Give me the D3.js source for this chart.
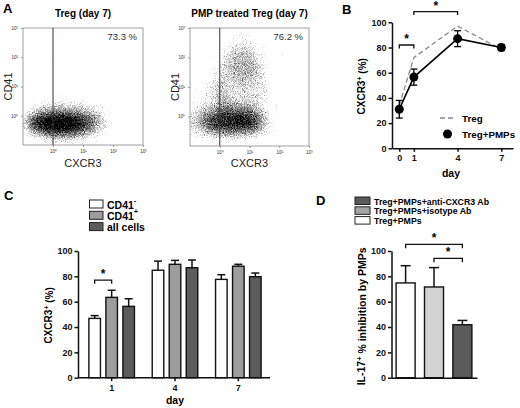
<!DOCTYPE html>
<html>
<head>
<meta charset="utf-8">
<script src="https://cdn.jsdelivr.net/npm/d3@7"></script>
<style>
  body { margin: 0; background: #fff; }
  svg { font-family: "Liberation Sans", Arial, sans-serif; display: block; }
  .ax path, .ax line { stroke: #111; stroke-width: 1.5; }
  .ax text { font-size: 9px; font-weight: bold; fill: #111; }
  .fa path, .fa line { stroke: #777; stroke-width: 0.7; }
  .fa text { font-size: 4.5px; fill: #333; }
</style>
</head>
<body>
<div id="fig"></div>
<script>
// ---- data ----
// A: flow cytometry clouds, [log10 CXCR3, log10 CD41, half-width (decades), half-height (decades), density]
const tregCloud = [
  [0.40, -0.20, 1.50, 0.72, 0.25],
  [0.30, -0.25, 1.20, 0.42, 0.40],
  [0.20, -0.28, 0.85, 0.25, 0.50]
];
const pmpCloud = [
  [0.30, -0.20, 1.50, 0.60, 0.28],
  [0.45, -0.22, 1.00, 0.32, 0.45],
  [0.70, 1.00, 0.95, 1.30, 0.22],
  [0.80, 2.00, 0.60, 0.90, 0.15],
  [-0.30, 0.50, 0.60, 0.80, 0.12]
];
const gatePct = ['73.3 %', '76.2 %'];
const logTicks = [1, 10, 100, 1000];

// B: CXCR3+ (%) over days
const daysB = [0, 1, 4, 7];
const tregB = [34, 72, 97, 78.5];
const pmpB = [31, 56.5, 87, 80];
const pmpErrB = [7, 6.4, 6.3, 2.4];

// C: CXCR3+ (%) by subset
const daysC = ['1', '4', '7'];
const seriesC = ['neg', 'pos', 'all'];
const cd41Neg = [46.8, 84.8, 77.6];
const cd41NegErr = [2.2, 7.2, 3.7];
const cd41Pos = [63.4, 89.5, 88];
const cd41PosErr = [5.6, 3.1, 1.5];
const allCells = [56.3, 86.8, 79.7];
const allCellsErr = [6.0, 6.1, 2.9];

// D: IL-17+ % inhibition by PMPs
const groupsD = ['Treg+PMPs', 'Treg+PMPs+isotype Ab', 'Treg+PMPs+anti-CXCR3 Ab'];
const inhibD = [74.8, 71.6, 41.8];
const inhibErrD = [13.6, 15.3, 3.4];

const W = 520, H = 408;
const svg = d3.select('#fig').append('svg')
  .attr('width', W).attr('height', H);
svg.append('rect').attr('width', W).attr('height', H).attr('fill', '#fff');

// grainy dot texture for the cytometry clouds
const defs = svg.append('defs');
const flt = defs.append('filter').attr('id', 'speckle')
  .attr('filterUnits', 'userSpaceOnUse')
  .attr('x', 0).attr('y', 0).attr('width', W).attr('height', 200)
  .attr('color-interpolation-filters', 'sRGB');
flt.append('feGaussianBlur').attr('in', 'SourceAlpha').attr('stdDeviation', 6).attr('result', 'b');
flt.append('feTurbulence').attr('type', 'fractalNoise').attr('baseFrequency', 1.1)
  .attr('numOctaves', 2).attr('seed', 4).attr('result', 'n');
flt.append('feColorMatrix').attr('in', 'n').attr('type', 'matrix')
  .attr('values', '0 0 0 0 0.07  0 0 0 0 0.07  0 0 0 0 0.07  1 0 0 0 0').attr('result', 'na');
flt.append('feComposite').attr('in', 'b').attr('in2', 'na').attr('operator', 'arithmetic')
  .attr('k1', 0).attr('k2', 1.5).attr('k3', 1.0).attr('k4', -0.78).attr('result', 'c');
const ct = flt.append('feComponentTransfer').attr('in', 'c');
ct.append('feFuncA').attr('type', 'linear').attr('slope', 1.35);

function supLabel(sel, base, sup, rest) {
  sel.append('tspan').text(base);
  sel.append('tspan').attr('dy', '-0.45em').attr('font-size', '0.7em').text(sup);
  sel.append('tspan').attr('dy', '0.45em').text(rest);
}

// ---- panel A ----
function dotPlot(x0, x1, y0, y1, cloud, title, pct, id) {
  const x = d3.scaleLog().domain([0.1, 1000]).range([x0, x1]);
  const y = d3.scaleLog().domain([0.1, 1000]).range([y1, y0]);
  const g = svg.append('g');
  defs.append('clipPath').attr('id', id).append('rect')
    .attr('x', x0).attr('y', y0).attr('width', x1 - x0).attr('height', y1 - y0);
  const pxDec = (x1 - x0) / 4, pyDec = (y1 - y0) / 4;
  g.append('g').attr('clip-path', `url(#${id})`)
    .append('g').attr('filter', 'url(#speckle)')
    .selectAll('ellipse').data(cloud).join('ellipse')
      .attr('cx', d => x(Math.pow(10, d[0])))
      .attr('cy', d => y(Math.pow(10, d[1])))
      .attr('rx', d => d[2] * pxDec)
      .attr('ry', d => d[3] * pyDec)
      .attr('fill', '#000').attr('fill-opacity', d => d[4]);
  g.append('rect').attr('x', x0).attr('y', y0).attr('width', x1 - x0).attr('height', y1 - y0)
    .attr('fill', 'none').attr('stroke', '#888').attr('stroke-width', 0.8);
  const fmt = v => '10' + '⁰¹²³'[Math.round(Math.log10(v))];
  g.append('g').attr('class', 'fa').attr('transform', `translate(0,${y1})`)
    .call(d3.axisBottom(x).tickValues(logTicks).tickFormat(fmt).tickSize(2).tickSizeOuter(0));
  g.append('g').attr('class', 'fa').attr('transform', `translate(${x0},0)`)
    .call(d3.axisLeft(y).tickValues(logTicks).tickFormat(fmt).tickSize(2).tickSizeOuter(0));
  g.selectAll('.fa .domain').remove();
  g.append('line').attr('x1', x(1)).attr('x2', x(1)).attr('y1', y0).attr('y2', y1)
    .attr('stroke', '#333').attr('stroke-width', 1);
  g.append('text').attr('x', x1 - 6).attr('y', y0 + 12).attr('text-anchor', 'end')
    .attr('font-size', 9.5).attr('fill', '#333').text(pct);
  g.append('text').attr('x', (x0 + x1) / 2).attr('y', 17).attr('text-anchor', 'middle')
    .attr('font-size', 10).attr('font-weight', 'bold').text(title);
  g.append('text').attr('x', (x0 + x1) / 2).attr('y', 167).attr('text-anchor', 'middle')
    .attr('font-size', 11).attr('fill', '#222').text('CXCR3');
  g.append('text').attr('transform', `translate(${x0 - 11},${(y0 + y1) / 2}) rotate(-90)`)
    .attr('text-anchor', 'middle').attr('font-size', 11).attr('fill', '#222').text('CD41');
}
dotPlot(23, 143, 28, 145, tregCloud, 'Treg (day 7)', gatePct[0], 'clipA1');
dotPlot(190, 309, 28, 146, pmpCloud, 'PMP treated Treg (day 7)', gatePct[1], 'clipA2');

// ---- panel B ----
const xB = d3.scaleLinear().domain([-0.5, 7.8]).range([392, 513]);
const yB = d3.scaleLinear().domain([0, 100]).range([148.3, 22.3]);
svg.append('g').attr('class', 'ax').attr('transform', `translate(0,${yB(0)})`)
  .call(d3.axisBottom(xB).tickValues(daysB).tickSize(3.5).tickPadding(3).tickSizeOuter(0));
svg.append('g').attr('class', 'ax').attr('transform', `translate(${xB.range()[0]},0)`)
  .call(d3.axisLeft(yB).tickValues([0, 20, 40, 60, 80, 100]).tickSize(3.5).tickPadding(2).tickSizeOuter(0));
svg.append('path')
  .attr('d', d3.line().x((d, i) => xB(daysB[i])).y(d => yB(d))(tregB))
  .attr('fill', 'none').attr('stroke', '#888').attr('stroke-width', 1.3).attr('stroke-dasharray', '5,3');
svg.append('path')
  .attr('d', d3.line().x((d, i) => xB(daysB[i])).y(d => yB(d))(pmpB))
  .attr('fill', 'none').attr('stroke', '#000').attr('stroke-width', 1.6);
const eb = svg.append('g').attr('stroke', '#000').attr('stroke-width', 1.3);
pmpB.forEach((v, i) => {
  const cx = xB(daysB[i]);
  eb.append('line').attr('x1', cx).attr('x2', cx).attr('y1', yB(v - pmpErrB[i])).attr('y2', yB(v + pmpErrB[i]));
  [v - pmpErrB[i], v + pmpErrB[i]].forEach(e =>
    eb.append('line').attr('x1', cx - 3.5).attr('x2', cx + 3.5).attr('y1', yB(e)).attr('y2', yB(e)));
});
svg.append('g').selectAll('circle').data(pmpB).join('circle')
  .attr('cx', (d, i) => xB(daysB[i])).attr('cy', d => yB(d)).attr('r', 4.5).attr('fill', '#000');

function bracket(xa, xb, yy, tip, star) {
  svg.append('path').attr('d', `M${xa},${yy + tip}V${yy}H${xb}V${yy + tip}`)
    .attr('fill', 'none').attr('stroke', '#111').attr('stroke-width', 1.3);
  if (star) svg.append('text').attr('x', (xa + xb) / 2).attr('y', yy - 2).attr('text-anchor', 'middle')
    .attr('font-size', 12).attr('font-weight', 'bold').text('*');
}
bracket(xB(0), xB(1), yB(82), 3.5, true);
bracket(xB(1), xB(4), yB(108.5), 3.5, true);

svg.append('text').attr('x', 451).attr('y', 177).attr('text-anchor', 'middle')
  .attr('font-size', 10.5).attr('font-weight', 'bold').text('day');
const ylB = svg.append('text').attr('transform', `translate(365,${yB(50) + 1}) rotate(-90)`)
  .attr('text-anchor', 'middle').attr('font-size', 10).attr('font-weight', 'bold');
supLabel(ylB, 'CXCR3', '+', ' (%)');
const lgB = svg.append('g').attr('font-size', 9.8).attr('font-weight', 'bold');
lgB.append('line').attr('x1', 440).attr('x2', 455).attr('y1', 118).attr('y2', 118)
  .attr('stroke', '#888').attr('stroke-width', 1.3).attr('stroke-dasharray', '5,3');
lgB.append('text').attr('x', 462).attr('y', 121.5).text('Treg');
lgB.append('circle').attr('cx', 447.5).attr('cy', 134).attr('r', 4.5);
lgB.append('text').attr('x', 462).attr('y', 137.5).text('Treg+PMPs');

// ---- panel C ----
const yC = d3.scaleLinear().domain([0, 100]).range([377.7, 251]);
const xC = d3.scaleBand().domain(daysC).range([80, 270]);
const xCi = d3.scaleBand().domain(seriesC).range([-25.5, 25.5]).paddingInner(0.32).paddingOuter(0.16);
const fillC = { neg: '#fff', pos: '#9d9d9d', all: '#5c5c5c' };
const rowsC = daysC.flatMap((day, i) => [
  { day, s: 'neg', v: cd41Neg[i], e: cd41NegErr[i] },
  { day, s: 'pos', v: cd41Pos[i], e: cd41PosErr[i] },
  { day, s: 'all', v: allCells[i], e: allCellsErr[i] }
]);
const cx0 = d => xC(d.day) + xC.bandwidth() / 2 + xCi(d.s);
svg.append('g').selectAll('line').data(rowsC).join('g').each(function (d) {
  const g = d3.select(this), mid = cx0(d) + xCi.bandwidth() / 2;
  g.append('line').attr('x1', mid).attr('x2', mid).attr('y1', yC(d.v)).attr('y2', yC(d.v + d.e))
    .attr('stroke', '#111').attr('stroke-width', 1.5);
  g.append('line').attr('x1', mid - 4).attr('x2', mid + 4).attr('y1', yC(d.v + d.e)).attr('y2', yC(d.v + d.e))
    .attr('stroke', '#111').attr('stroke-width', 1.5);
});
svg.append('g').selectAll('rect').data(rowsC).join('rect')
  .attr('x', cx0).attr('y', d => yC(d.v))
  .attr('width', xCi.bandwidth()).attr('height', d => yC(0) - yC(d.v))
  .attr('fill', d => fillC[d.s]).attr('stroke', '#111').attr('stroke-width', 1.4);
svg.append('g').attr('class', 'ax').attr('transform', `translate(0,${yC(0)})`)
  .call(d3.axisBottom(xC).tickSize(3.5).tickPadding(3).tickSizeOuter(0))
  .call(g => g.select('.domain').attr('d', `M78,0H270`));
svg.append('g').attr('class', 'ax').attr('transform', 'translate(78,0)')
  .call(d3.axisLeft(yC).tickValues([0, 20, 40, 60, 80, 100]).tickSize(3.5).tickPadding(2).tickSizeOuter(0));
{
  const a = cx0(rowsC[0]) + xCi.bandwidth() / 2, b = cx0(rowsC[1]) + xCi.bandwidth() / 2;
  bracket(a, b, yC(77), 3.5, true);
}
svg.append('text').attr('x', 175).attr('y', 404).attr('text-anchor', 'middle')
  .attr('font-size', 10.5).attr('font-weight', 'bold').text('day');
const ylC = svg.append('text').attr('transform', `translate(52,${yC(50) + 1}) rotate(-90)`)
  .attr('text-anchor', 'middle').attr('font-size', 10).attr('font-weight', 'bold');
supLabel(ylC, 'CXCR3', '+', ' (%)');
const lgC = svg.append('g').attr('font-size', 10.5).attr('font-weight', 'bold');
[['neg', 'CD41', '-'], ['pos', 'CD41', '+'], ['all', 'all cells', '']].forEach((r, i) => {
  const yy = 200 + i * 11.3;
  lgC.append('rect').attr('x', 89.5).attr('y', yy).attr('width', 13.5).attr('height', 8)
    .attr('fill', fillC[r[0]]).attr('stroke', '#222').attr('stroke-width', 1);
  const t = lgC.append('text').attr('x', 107).attr('y', yy + 8.5);
  t.append('tspan').text(r[1]);
  if (r[2]) t.append('tspan').attr('dy', -5.5).attr('font-size', 7.5).text(r[2]);
});

// ---- panel D ----
const yD = d3.scaleLinear().domain([0, 100]).range([377.7, 251]);
const xD = d3.scaleBand().domain(groupsD).range([391, 477]).paddingInner(0.33).paddingOuter(0.18);
const fillD = ['#fff', '#d2d2d2', '#5a5a5a'];
const swatchD = ['#fff', '#a5a5a5', '#5a5a5a'];
const barD = svg.append('g');
groupsD.forEach((gname, i) => {
  const mid = xD(gname) + xD.bandwidth() / 2, top = inhibD[i] + inhibErrD[i];
  barD.append('line').attr('x1', mid).attr('x2', mid).attr('y1', yD(inhibD[i])).attr('y2', yD(top))
    .attr('stroke', '#111').attr('stroke-width', 1.5);
  barD.append('line').attr('x1', mid - 5).attr('x2', mid + 5).attr('y1', yD(top)).attr('y2', yD(top))
    .attr('stroke', '#111').attr('stroke-width', 1.5);
});
barD.selectAll('rect').data(inhibD).join('rect')
  .attr('x', (d, i) => xD(groupsD[i])).attr('y', d => yD(d))
  .attr('width', xD.bandwidth()).attr('height', d => yD(0) - yD(d))
  .attr('fill', (d, i) => fillD[i]).attr('stroke', '#111').attr('stroke-width', 1.4);
svg.append('g').attr('class', 'ax').attr('transform', `translate(0,${yD(0)})`)
  .call(d3.axisBottom(xD).tickValues([]).tickSizeOuter(0));
svg.append('g').attr('class', 'ax').attr('transform', 'translate(391.5,0)')
  .call(d3.axisLeft(yD).tickValues([0, 20, 40, 60, 80, 100]).tickSize(3.5).tickPadding(2).tickSizeOuter(0));
{
  const m = i => xD(groupsD[i]) + xD.bandwidth() / 2;
  bracket(m(0), m(2), yD(105.3), 4, true);
  bracket(m(1), m(2), yD(94.2), 4, true);
}
const ylD = svg.append('text').attr('transform', `translate(365,${yD(50) + 2}) rotate(-90)`)
  .attr('text-anchor', 'middle').attr('font-size', 10.5).attr('font-weight', 'bold');
supLabel(ylD, 'IL-17', '+', ' % inhibition by PMPs');
const lgD = svg.append('g').attr('font-size', 8.8).attr('font-weight', 'bold');
[2, 1, 0].forEach((gi, r) => {
  const yy = 197 + r * 9.8;
  lgD.append('rect').attr('x', 355).attr('y', yy).attr('width', 15).attr('height', 7.5)
    .attr('fill', swatchD[gi]).attr('stroke', '#222').attr('stroke-width', 1);
  lgD.append('text').attr('x', 374).attr('y', yy + 7.5).text(groupsD[gi]);
});

// ---- panel letters ----
svg.append('g').attr('font-size', 13).attr('font-weight', 'bold')
  .selectAll('text').data([['A', 3, 13], ['B', 342, 14], ['C', 4, 200], ['D', 316, 205]])
  .join('text').attr('x', d => d[1]).attr('y', d => d[2]).text(d => d[0]);
</script>
</body>
</html>
